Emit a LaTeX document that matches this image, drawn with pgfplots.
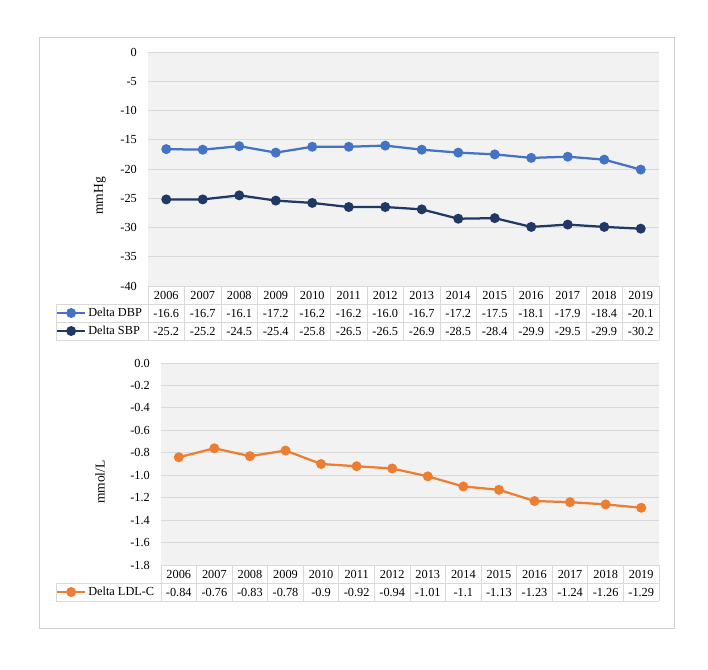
\documentclass[border=0pt]{standalone}
\usepackage{fontspec}
\setmainfont{Liberation Serif}
\usepackage{pgfplots}
\usepackage{pgfplotstable}
\pgfplotsset{compat=1.18}

\definecolor{dbpcol}{HTML}{4472C4}
\definecolor{sbpcol}{HTML}{1F3864}
\definecolor{ldlcol}{HTML}{ED7D31}
\definecolor{plotbg}{HTML}{F2F2F2}
\definecolor{gridgray}{HTML}{D9D9D9}
\definecolor{framegray}{HTML}{D0D0D0}

% yearly change values
\pgfplotstableread{
i year dbp sbp ldl
0 2006 -16.6 -25.2 -0.84
1 2007 -16.7 -25.2 -0.76
2 2008 -16.1 -24.5 -0.83
3 2009 -17.2 -25.4 -0.78
4 2010 -16.2 -25.8 -0.9
5 2011 -16.2 -26.5 -0.92
6 2012 -16.0 -26.5 -0.94
7 2013 -16.7 -26.9 -1.01
8 2014 -17.2 -28.5 -1.1
9 2015 -17.5 -28.4 -1.13
10 2016 -18.1 -29.9 -1.23
11 2017 -17.9 -29.5 -1.24
12 2018 -18.4 -29.9 -1.26
13 2019 -20.1 -30.2 -1.29
}\bpdata

\newcommand\cell[1]{\pgfplotstablegetelem{\ticknum}{#1}\of\bpdata\pgfplotsretval}

\pgfplotsset{
  chart/.style={
    scale only axis, anchor=south west, clip=false,
    xmin=-0.5, xmax=13.5, xtick={0,...,13},
    axis line style={draw=none}, major tick length=0pt,
    ymajorgrids, grid style={gridgray, line width=0.9pt},
    axis background/.style={fill=plotbg},
    tick label style={font=\fontsize{12.3}{18}\selectfont},
    yticklabel style={anchor=east, inner sep=0pt, xshift=-11pt},
    /pgf/number format/assume math mode=true,
    xticklabel style={anchor=north, inner sep=0pt, yshift=-5pt, align=center},
    label style={font=\fontsize{13.5}{15}\selectfont},
    legend cell align=left,
    legend style={draw=none, fill=none, inner sep=0pt, outer sep=0pt,
      row sep=0pt, column sep=2pt, font=\fontsize{12.3}{14}\selectfont,
      nodes={inner sep=0pt, text height=12pt, text depth=6pt}},
    legend image code/.code={
      \draw[##1, mark repeat=2, mark phase=2] plot coordinates {(4pt,0pt) (18pt,0pt) (32pt,0pt)};
    },
  },
  serie/.style={color=#1, line width=2.25pt, mark=*, mark size=3.8pt,
    mark options={fill=#1, draw=#1}},
}

\begin{document}
\begin{tikzpicture}
\useasboundingbox (0pt,0pt) rectangle (708pt,669pt);
\draw[framegray, line width=1pt] (39pt,41pt) rectangle (674pt,631pt);

% blood pressure
\begin{axis}[chart, at={(148pt,383pt)}, width=511pt, height=234pt,
  ymin=-40, ymax=0, ytick={-40,-35,...,0},
  xticklabel={\cell{year}\\\cell{dbp}\\\cell{sbp}},
  ylabel={mmHg}, ylabel style={at={(axis description cs:-0.094,0.385)}, anchor=center},
  legend style={at={(axis description cs:-0.180,-0.077)}, anchor=north west}]
  \addplot[serie=dbpcol] table[x=i, y=dbp] {\bpdata};
  \addplot[serie=sbpcol] table[x=i, y=sbp] {\bpdata};
  \legend{Delta DBP, Delta SBP}
\end{axis}

% LDL cholesterol
\begin{axis}[chart, at={(161pt,104pt)}, width=498pt, height=202pt,
  ymin=-1.8, ymax=0, ytick={-1.8,-1.6,-1.4,-1.2,-1,-0.8,-0.6,-0.4,-0.2,0},
  yticklabel style={/pgf/number format/.cd, fixed, fixed zerofill, precision=1},
  xticklabel={\cell{year}\\\cell{ldl}},
  ylabel={mmol/L}, ylabel style={at={(axis description cs:-0.1225,0.41)}, anchor=center},
  legend style={at={(axis description cs:-0.2108,-0.0891)}, anchor=north west}]
  \addplot[serie=ldlcol] table[x=i, y=ldl] {\bpdata};
  \legend{Delta LDL-C}
\end{axis}

% table borders
\begin{scope}[gridgray, line width=0.9pt]
  \draw (148pt,383pt) -- (659pt,383pt);
  \draw (56pt,365pt) -- (659pt,365pt);
  \draw (56pt,347pt) -- (659pt,347pt);
  \draw (56pt,329pt) -- (659pt,329pt);
  \draw (56pt,365pt) -- (56pt,329pt);
  \foreach \k in {0,...,14} \draw ({148pt+36.5pt*\k},383pt) -- ({148pt+36.5pt*\k},329pt);
  \draw (161pt,104pt) -- (659pt,104pt);
  \draw (56pt,86pt) -- (659pt,86pt);
  \draw (56pt,68pt) -- (659pt,68pt);
  \draw (56pt,86pt) -- (56pt,68pt);
  \foreach \k in {0,...,14} \draw ({161pt+35.5714pt*\k},104pt) -- ({161pt+35.5714pt*\k},68pt);
\end{scope}
\end{tikzpicture}
\end{document}
